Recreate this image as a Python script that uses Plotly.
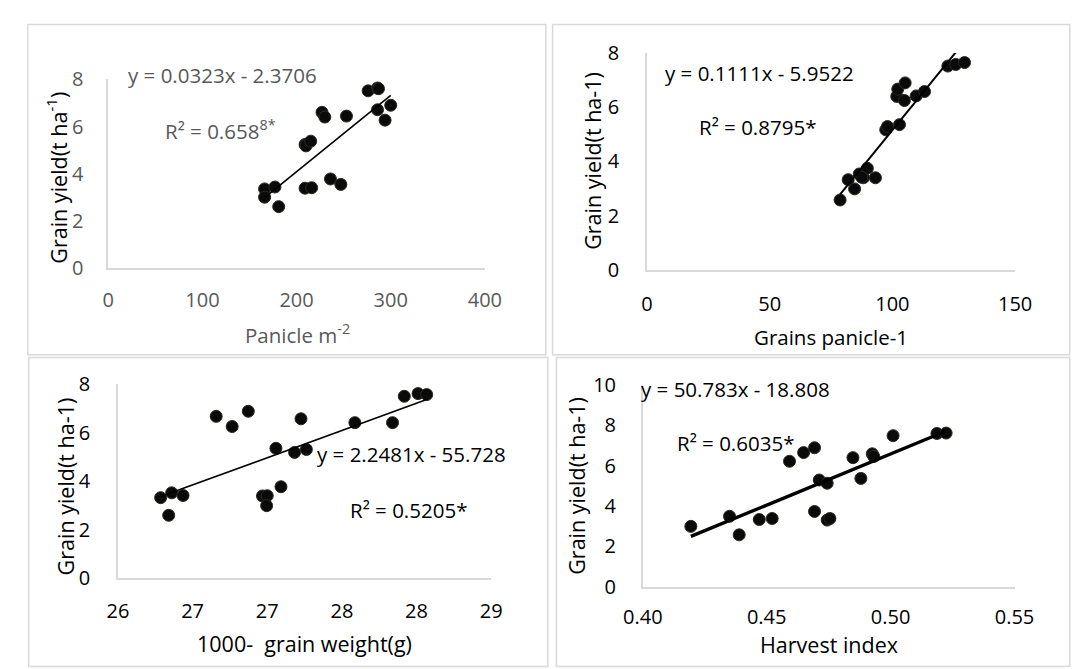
import plotly.graph_objects as go

W, H = 1082, 669

# ---------------- data ----------------
panicle_m2 = [166, 166, 177, 181, 209, 210, 215, 209, 216, 227, 230, 236, 247, 253, 276, 286, 287, 286, 294, 300]
yield_tl = [3.36, 3.01, 3.44, 2.61, 5.24, 5.18, 5.38, 3.39, 3.41, 6.60, 6.40, 3.78, 3.55, 6.44, 7.51, 7.63, 7.60, 6.71, 6.27, 6.90]

grains_panicle = [78.7, 82.0, 84.6, 86.5, 88.2, 89.8, 93.1, 97.3, 98.0, 102.9, 101.8, 102.2, 105.2, 104.9, 109.7, 113.1, 122.6, 125.8, 129.4, 87.5]
yield_tr = [2.58, 3.33, 2.99, 3.54, 3.40, 3.75, 3.40, 5.17, 5.29, 5.36, 6.40, 6.67, 6.90, 6.25, 6.42, 6.58, 7.52, 7.58, 7.65, 3.42]

grain_weight = [26.286, 26.34, 26.36, 26.436, 26.658, 26.765, 26.873, 26.968, 27.0, 26.996, 27.058, 27.092, 27.183, 27.226, 27.262, 27.587, 27.839, 27.918, 28.01, 28.068]
yield_bl = [3.32, 2.59, 3.52, 3.41, 6.68, 6.26, 6.89, 3.39, 3.40, 2.99, 5.36, 3.77, 5.19, 6.58, 5.31, 6.42, 6.42, 7.51, 7.62, 7.58]

harvest_index = [0.4194, 0.435, 0.4389, 0.447, 0.4522, 0.4592, 0.4649, 0.4693, 0.4693, 0.4712, 0.4744, 0.4744, 0.4755, 0.4848, 0.488, 0.4926, 0.4932, 0.501, 0.5187, 0.5224]
yield_br = [2.99, 3.49, 2.57, 3.33, 3.38, 6.22, 6.65, 6.89, 3.73, 5.29, 5.13, 3.30, 3.38, 6.40, 5.37, 6.59, 6.46, 7.49, 7.60, 7.62]

# regression coefficients (slope, intercept) as printed
coef_tl = (0.0323, -2.3706)
coef_tr = (0.1111, -5.9522)
coef_bl = (2.2481, -55.728)
coef_br = (50.783, -18.808)

eq_tl, r2_tl = "y = 0.0323x - 2.3706", "R² = 0.658<sup>8*</sup>"
eq_tr, r2_tr = "y = 0.1111x - 5.9522", "R² = 0.8795*"
eq_bl, r2_bl = "y = 2.2481x - 55.728", "R² = 0.5205*"
eq_br, r2_br = "y = 50.783x - 18.808", "R² = 0.6035*"

xt_tl = [0, 100, 200, 300, 400]
xt_tr = [0, 50, 100, 150]
xt_bl = [26, 26.5, 27, 27.5, 28, 28.5]
xt_bl_text = ["26", "27", "27", "28", "28", "29"]
xt_br = [0.40, 0.45, 0.50, 0.55]
yt_8 = [0, 2, 4, 6, 8]
yt_10 = [0, 2, 4, 6, 8, 10]

# ---------------- helpers ----------------
def px(x):
    return x / W

def py(y):
    return 1 - y / H

FONT = "Open Sans"
GRAY = "#595959"
BLACK = "#000000"
AXC = "#d9d9d9"
TICK = 20
EQ = 20.5
TITLE = 21.5

fig = go.Figure()

def add_panel(idx, xs, ys, coef, lw):
    sfx = "" if idx == 1 else str(idx)
    fig.add_trace(go.Scatter(
        x=xs, y=ys, mode="markers", xaxis="x" + sfx, yaxis="y" + sfx,
        marker=dict(size=12, color="#0a0a0a", line=dict(color="#2b2b20", width=1)),
        showlegend=False, cliponaxis=False))
    x0, x1 = min(xs), max(xs)
    fig.add_trace(go.Scatter(
        x=[x0, x1], y=[coef[0] * x0 + coef[1], coef[0] * x1 + coef[1]],
        mode="lines", xaxis="x" + sfx, yaxis="y" + sfx,
        line=dict(color="black", width=lw), showlegend=False))

add_panel(1, panicle_m2, yield_tl, coef_tl, 1.6)
add_panel(2, grains_panicle, yield_tr, coef_tr, 2.0)
add_panel(3, grain_weight, yield_bl, coef_bl, 1.6)
add_panel(4, harvest_index, yield_br, coef_br, 3.4)

def xax(dom, rng, tv, tt, color, stand, anchor):
    d = dict(domain=dom, range=rng, tickvals=tv, showgrid=False, zeroline=False,
             showline=True, linecolor=AXC, linewidth=1.5, ticks="",
             tickfont=dict(family=FONT, size=TICK, color=color),
             ticklabelstandoff=stand, anchor=anchor, fixedrange=True)
    if tt is not None:
        d["ticktext"] = tt
    return d

def yax(dom, rng, tv, color, stand, anchor):
    return dict(domain=dom, range=rng, tickvals=tv, showgrid=False, zeroline=False,
                showline=True, linecolor=AXC, linewidth=1.5, ticks="",
                tickfont=dict(family=FONT, size=TICK, color=color),
                ticklabelstandoff=stand, anchor=anchor, fixedrange=True)

ax4 = xax([px(646.7), px(1032.7)], [0.40, 0.55], xt_br, None, BLACK, 12, "y4")
ax4["tickformat"] = ".2f"

fig.update_layout(
    width=W, height=H, margin=dict(l=0, r=0, t=0, b=0),
    paper_bgcolor="white", plot_bgcolor="white", showlegend=False,
    xaxis=xax([px(91.7), px(482.7)], [0, 400], xt_tl, None, GRAY, 13, "y"),
    yaxis=yax([py(265), py(68)], [0, 8], yt_8, GRAY, 19, "x"),
    xaxis2=xax([px(651), px(1033.3)], [0, 150], xt_tr, None, BLACK, 15, "y2"),
    yaxis2=yax([py(266.7), py(40.7)], [0, 8], yt_8, BLACK, 22, "x2"),
    xaxis3=xax([px(101.7), px(489.3)], [26, 28.5], xt_bl, xt_bl_text, BLACK, 14, "y3"),
    yaxis3=yax([py(587.7), py(386)], [0, 8], yt_8, BLACK, 22, "x3"),
    xaxis4=ax4,
    yaxis4=yax([py(596.7), py(386.7)], [0, 10], yt_10, BLACK, 21, "x4"),
)

# panel borders
def box(x0, y0, x1, y1):
    fig.add_shape(type="rect", xref="paper", yref="paper",
                  x0=px(x0), x1=px(x1), y0=py(y1), y1=py(y0),
                  line=dict(color=AXC, width=1.5), fillcolor="rgba(0,0,0,0)", layer="below")

box(8, 11, 546, 355)
box(553, 11, 1090, 355)
box(9, 358, 548, 680)
box(557, 358, 1090, 680)

def ann(text, x, y, color, size=EQ, angle=0, xanchor="left"):
    fig.add_annotation(text=text, xref="paper", yref="paper", x=px(x), y=py(y),
                       xanchor=xanchor, yanchor="middle", showarrow=False, textangle=angle,
                       font=dict(family=FONT, size=size, color=color), borderpad=0)

# equations
ann(eq_tl, 111, 64, GRAY)
ann(r2_tl, 150, 121, GRAY)
ann(eq_tr, 669, 61, BLACK)
ann(r2_tr, 704, 118, BLACK)
ann(eq_bl, 307, 458, BLACK)
ann(r2_bl, 342, 517, BLACK)
ann(eq_br, 644, 391, BLACK)
ann(r2_br, 681, 447, BLACK)

# axis titles
ann("Grain yield(t ha<sup>-1</sup>)", 38, 171, BLACK, TITLE, -90, "center")
ann("Grain yield(t ha-1)", 595, 153, BLACK, TITLE, -90, "center")
ann("Grain yield(t ha-1)", 47, 492, BLACK, TITLE, -90, "center")
ann("Grain yield(t ha-1)", 578, 492, BLACK, TITLE, -90, "center")
ann("Panicle m<sup>-2</sup>", 288, 333, GRAY, 20.5, 0, "center")
ann("Grains panicle-1", 842, 337, BLACK, 20.5, 0, "center")
ann("1000-\u00a0\u00a0grain weight(g)", 295, 656, BLACK, TITLE, 0, "center")
ann("Harvest index", 840, 657, BLACK, TITLE, 0, "center")

fig.write_html("out.html")
